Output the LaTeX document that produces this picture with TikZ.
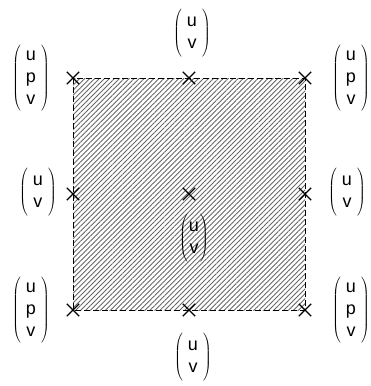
\documentclass[tikz,border=0pt]{standalone}
\usepackage{fontspec}
\setmainfont{Liberation Sans}
\usetikzlibrary{patterns.meta,shapes.misc}
\tikzset{
  mark x/.style={cross out,draw,line width=1.4pt,minimum size=11pt,inner sep=0pt},
  vec/.style={inner sep=0pt,font=\fontsize{18}{22}\selectfont},
}
\newcommand{\vuv}{$\left(\vcenter{\hbox{\rule{0pt}{50pt}}}\hspace{5pt}\begin{tabular}{@{}c@{}}u\\ v\end{tabular}\hspace{5pt}\right)$}
\newcommand{\vuvtight}{$\left(\vcenter{\hbox{\rule{0pt}{50pt}}}\hspace{1pt}\begin{tabular}{@{}c@{}}u\\ v\end{tabular}\hspace{1pt}\right)$}
\newcommand{\vupv}{$\left(\vcenter{\hbox{\rule{0pt}{68pt}}}\hspace{5pt}\begin{tabular}{@{}c@{}}u\\ p\\ v\end{tabular}\hspace{5pt}\right)$}
\begin{document}
\begin{tikzpicture}[x=1pt,y=-1pt]
\useasboundingbox (0,0) rectangle (370,386);
\fill[pattern={Lines[angle=45,distance=3.5pt,line width=0.9pt]},pattern color=black!60] (73,78) rectangle (305,310);
\draw[line width=0.8pt,dash pattern=on 6pt off 3pt] (73,78) rectangle (305,310);
\node[mark x] (tl) at (73,78) {};
\node[mark x] (tm) at (189,78) {};
\node[mark x] (tr) at (305,78) {};
\node[mark x] (ml) at (73,194) {};
\node[mark x] (mm) at (189,194) {};
\node[mark x] (mr) at (305,194) {};
\node[mark x] (bl) at (73,310) {};
\node[mark x] (bm) at (189,310) {};
\node[mark x] (br) at (305,310) {};
\node[vec] (ltl) at (31,78) {\vupv};
\node[vec] (ltm) at (192,33) {\vuv};
\node[vec] (ltr) at (351,78) {\vupv};
\node[vec] (lml) at (38,192) {\vuv};
\node[vec] (lmr) at (347,192) {\vuv};
\node[vec] (lmm) at (194,238) {\vuvtight};
\node[vec] (lbl) at (31,310) {\vupv};
\node[vec] (lbm) at (193,357) {\vuv};
\node[vec] (lbr) at (351,310) {\vupv};
\end{tikzpicture}
\end{document}
